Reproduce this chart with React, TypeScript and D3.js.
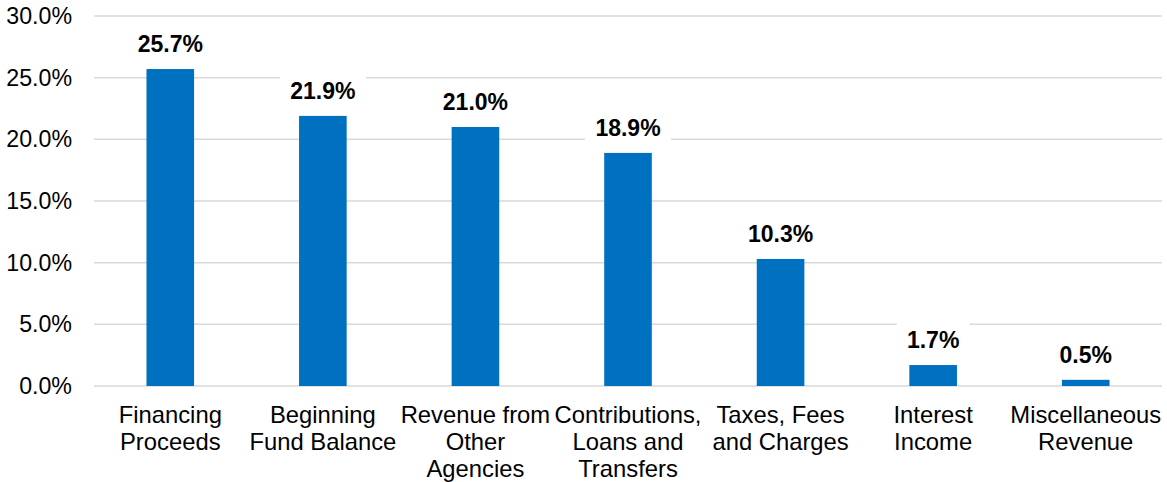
import React from "react";
import * as d3 from "d3";

const categories: string[][] = [
  ["Financing", "Proceeds"],
  ["Beginning", "Fund Balance"],
  ["Revenue from", "Other", "Agencies"],
  ["Contributions,", "Loans and", "Transfers"],
  ["Taxes, Fees", "and Charges"],
  ["Interest", "Income"],
  ["Miscellaneous", "Revenue"],
];
const values: number[] = [25.7, 21.9, 21.0, 18.9, 10.3, 1.7, 0.5];
const yTicks: number[] = [0, 5, 10, 15, 20, 25, 30];

const W = 1167;
const H = 482;
const FONT = "'Liberation Sans', Arial, sans-serif";

export default function App() {
  const keys = categories.map((c) => c.join(" "));
  const x = d3
    .scaleBand<string>()
    .domain(keys)
    .range([94, 1162])
    .paddingInner(0.688)
    .paddingOuter(0.344);
  const y = d3.scaleLinear().domain([0, 30]).range([386, 16]);
  const fmt = (v: number) => d3.format(".1f")(v) + "%";

  return (
    <svg
      width={W}
      height={H}
      style={{ position: "absolute", left: 0, top: 0, background: "#fff" }}
      fontFamily={FONT}
    >
      {yTicks.map((t) => (
        <g key={t}>
          <line x1={94} x2={1162} y1={y(t)} y2={y(t)} stroke="#d9d9d9" strokeWidth={1.5} />
          <text x={72} y={y(t) + 8} textAnchor="end" fontSize={23.2} fill="#000">
            {fmt(t)}
          </text>
        </g>
      ))}
      {values.map((v, i) => {
        const k = keys[i];
        const bx = x(k)!;
        const bw = x.bandwidth();
        return (
          <rect key={k} x={bx} y={y(v)} width={bw} height={y(0) - y(v)} fill="#0070c0" />
        );
      })}
      {values.map((v, i) => {
        const k = keys[i];
        const cx = x(k)! + x.bandwidth() / 2;
        const base = y(v) - 17;
        const label = fmt(v);
        const tw = label.length * 13.2;
        return (
          <g key={"l" + k}>
            <rect x={cx - tw / 2 - 10} y={base - 26} width={tw + 20} height={35} fill="#fff" />
            <text x={cx} y={base} textAnchor="middle" fontSize={23} fontWeight="bold" fill="#000">
              {label}
            </text>
          </g>
        );
      })}
      {categories.map((lines, i) => {
        const cx = x(keys[i])! + x.bandwidth() / 2;
        return (
          <text key={"c" + i} textAnchor="middle" fontSize={23.8} fill="#000">
            {lines.map((ln, j) => (
              <tspan key={j} x={cx} y={422.7 + j * 27}>
                {ln}
              </tspan>
            ))}
          </text>
        );
      })}
    </svg>
  );
}
